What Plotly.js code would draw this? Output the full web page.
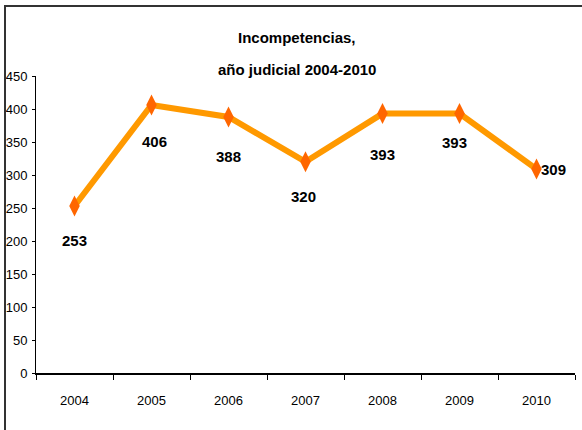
<!DOCTYPE html>
<html>
<head>
<meta charset="utf-8">
<script src="https://cdn.plot.ly/plotly-3.0.1.min.js"></script>
<style>
  html, body { margin: 0; padding: 0; background: #ffffff; overflow: hidden; }
  #chart { width: 582px; height: 430px; }
</style>
</head>
<body>
<div id="chart"></div>
<script>
const years = ['2004', '2005', '2006', '2007', '2008', '2009', '2010'];
const values = [253, 406, 388, 320, 393, 393, 309];
const yTicks = [0, 50, 100, 150, 200, 250, 300, 350, 400, 450];
const titleLines = ['Incompetencias,', 'año judicial 2004-2010'];

const FONT = '"Liberation Sans Narrow", "Liberation Sans", Arial, sans-serif';

const labelDX = [0, 3, 0, -2, 0, -5, 17];
const labelDY = [-34, -36, -40, -35, -41, -29, 0];

// plot area in pixels: x 36..575, y 76..373
const W = 539, H = 297;
const px = p => (p - 36) / W;
const py = p => (373 - p) / H;

const trace = {
  x: years,
  y: values,
  type: 'scatter',
  mode: 'lines+markers',
  line: { color: '#FF9900', width: 6 },
  marker: { symbol: 'diamond-tall', size: 15, color: '#FF6600', line: { width: 0 } },
  hoverinfo: 'skip',
  cliponaxis: false
};

const annotations = values.map((v, i) => ({
  x: i, y: v, xref: 'x', yref: 'y',
  xanchor: 'center', yanchor: 'middle',
  text: '<b>' + String(v) + '</b>', showarrow: false,
  xshift: labelDX[i], yshift: labelDY[i],
  font: { family: FONT, size: 15, color: '#000' }
}));

annotations.push({
  xref: 'paper', yref: 'paper', x: px(297), y: py(38),
  xanchor: 'center', yanchor: 'middle',
  text: '<b>' + titleLines[0] + '</b>', showarrow: false,
  font: { family: FONT, size: 15, color: '#000' }
});
annotations.push({
  xref: 'paper', yref: 'paper', x: px(297), y: py(69),
  xanchor: 'center', yanchor: 'middle',
  text: '<b>' + titleLines[1] + '</b>', showarrow: false,
  font: { family: FONT, size: 15, color: '#000' }
});

const shapes = [
  { type: 'line', xref: 'paper', yref: 'paper', x0: px(5), x1: px(590), y0: py(6), y1: py(6),
    line: { color: '#333', width: 2 } },
  { type: 'line', xref: 'paper', yref: 'paper', x0: px(5), x1: px(5), y0: py(5), y1: py(440),
    line: { color: '#333', width: 2 } }
];

const layout = {
  width: 582, height: 430,
  margin: { l: 36, r: 7, t: 76, b: 57, pad: 0 },
  paper_bgcolor: '#ffffff', plot_bgcolor: '#ffffff',
  showlegend: false,
  xaxis: {
    type: 'category',
    tickson: 'boundaries',
    ticks: 'outside', ticklen: 5, tickcolor: '#000', tickwidth: 1,
    showline: true, linecolor: '#000', linewidth: 2,
    showgrid: false, zeroline: false,
    ticklabelstandoff: 14,
    tickfont: { family: FONT, size: 13, color: '#000' },
    range: [-0.5, 6.5],
    fixedrange: true
  },
  yaxis: {
    range: [0, 450],
    tickvals: yTicks,
    ticktext: yTicks.map(String),
    ticks: 'outside', ticklen: 3, tickcolor: '#000', tickwidth: 1,
    showline: true, linecolor: '#000', linewidth: 1,
    showgrid: false, zeroline: false,
    ticklabelstandoff: 2,
    tickfont: { family: FONT, size: 13, color: '#000' },
    fixedrange: true
  },
  shapes: shapes,
  annotations: annotations
};

Plotly.newPlot('chart', [trace], layout, { displayModeBar: false, staticPlot: true });
</script>
</body>
</html>
